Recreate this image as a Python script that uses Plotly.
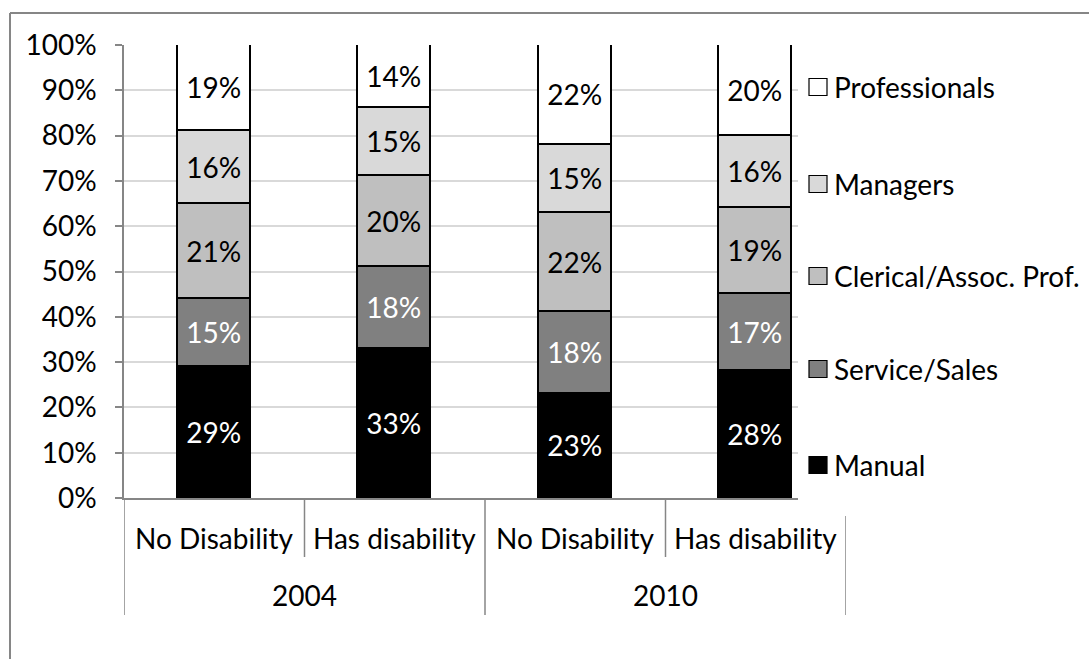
import plotly.graph_objects as go

# Occupational mix of workers, by survey year and disability status (shares in %)
groups = ["No Disability", "Has disability", "No Disability", "Has disability"]
years = ["2004", "2010"]
series_names = ["Manual", "Service/Sales", "Clerical/Assoc. Prof.", "Managers", "Professionals"]
manual = [29, 33, 23, 28]
service_sales = [15, 18, 18, 17]
clerical = [21, 20, 22, 19]
managers = [16, 15, 15, 16]
professionals = [19, 14, 22, 20]
y_ticks = [0, 10, 20, 30, 40, 50, 60, 70, 80, 90, 100]

values = [manual, service_sales, clerical, managers, professionals]
fills = ["#000000", "#808080", "#bfbfbf", "#d9d9d9", "#ffffff"]
label_colors = ["#ffffff", "#ffffff", "#000000", "#000000", "#000000"]

FONT = "Lato"
FS = 28
W, H = 1089, 659
L, R, T, B = 124, 846, 45, 498  # plot area in pixels

def px(xp):
    return (xp - L) / (R - L)

def py(yp):
    return (B - yp) / (B - T)

xs = list(range(len(groups)))

fig = go.Figure()
for name, vals, fill, lc in zip(series_names, values, fills, label_colors):
    fig.add_trace(go.Bar(
        x=xs, y=vals, name=name,
        marker=dict(color=fill, line=dict(color="#000000", width=1.8)),
        text=[f"{v}%" for v in vals], textposition="inside",
        insidetextanchor="middle", textangle=0,
        textfont=dict(family=FONT, size=FS, color=lc),
        width=0.405, showlegend=False,
    ))

shapes = []
annotations = []
GRID = "#868686"

# outer chart border (top and left edges are visible)
shapes.append(dict(type="line", xref="paper", yref="paper",
                   x0=px(10), x1=px(W + 5), y0=py(13), y1=py(13),
                   line=dict(color=GRID, width=2)))
shapes.append(dict(type="line", xref="paper", yref="paper",
                   x0=px(10), x1=px(10), y0=py(13), y1=py(H + 5),
                   line=dict(color=GRID, width=2)))

# category axis separators: short ones between groups, long ones between years
for xb, bottom in [(-0.5, 615), (0.5, 557), (1.5, 615), (2.5, 557), (3.5, 615)]:
    shapes.append(dict(type="line", xref="x", yref="paper",
                       x0=xb, x1=xb, y0=0, y1=py(bottom),
                       line=dict(color=GRID, width=1.5)))

# legend panel sits over the right edge of the plot area
shapes.append(dict(type="rect", xref="paper", yref="paper",
                   x0=px(798), x1=px(1075), y0=py(40), y1=py(516),
                   fillcolor="#ffffff", line=dict(width=0), layer="above"))

legend_y = [465, 369, 276, 184, 87]
for name, fill, yc in zip(series_names, fills, legend_y):
    shapes.append(dict(type="rect", xref="paper", yref="paper",
                       x0=px(809), x1=px(827), y0=py(yc + 8.5), y1=py(yc - 8.5),
                       fillcolor=fill, line=dict(color="#000000", width=1.2),
                       layer="above"))
    annotations.append(dict(text=name, xref="paper", yref="paper",
                            x=px(832), y=py(yc), xanchor="left", yanchor="middle",
                            showarrow=False,
                            font=dict(family=FONT, size=FS, color="#000000")))

for i, g in enumerate(groups):
    annotations.append(dict(text=g, xref="x", yref="paper", x=i, y=py(538),
                            xanchor="center", yanchor="middle", showarrow=False,
                            font=dict(family=FONT, size=FS, color="#000000")))
for j, yr in enumerate(years):
    annotations.append(dict(text=yr, xref="x", yref="paper", x=2 * j + 0.5, y=py(595),
                            xanchor="center", yanchor="middle", showarrow=False,
                            font=dict(family=FONT, size=FS, color="#000000")))

fig.update_layout(
    width=W, height=H,
    margin=dict(l=L, r=W - R, t=T, b=H - B),
    barmode="stack", bargap=0,
    plot_bgcolor="#ffffff", paper_bgcolor="#ffffff",
    shapes=shapes, annotations=annotations,
    uniformtext=dict(mode=False),
)
fig.update_xaxes(range=[-0.5, 3.5], showticklabels=False, showgrid=False,
                 zeroline=False, showline=True, linecolor=GRID, linewidth=1.5,
                 ticks="", fixedrange=True)
fig.update_yaxes(range=[0, 100], tickvals=y_ticks,
                 ticktext=[f"{t}%" for t in y_ticks],
                 tickfont=dict(family=FONT, size=FS, color="#000000"),
                 showgrid=True, gridcolor="#d9d9d9", gridwidth=1.5,
                 zeroline=False, showline=True, linecolor=GRID, linewidth=1.5,
                 ticks="outside", ticklen=7, tickcolor=GRID, tickwidth=1.5,
                 ticklabelstandoff=13)

fig.write_html("out.html")
